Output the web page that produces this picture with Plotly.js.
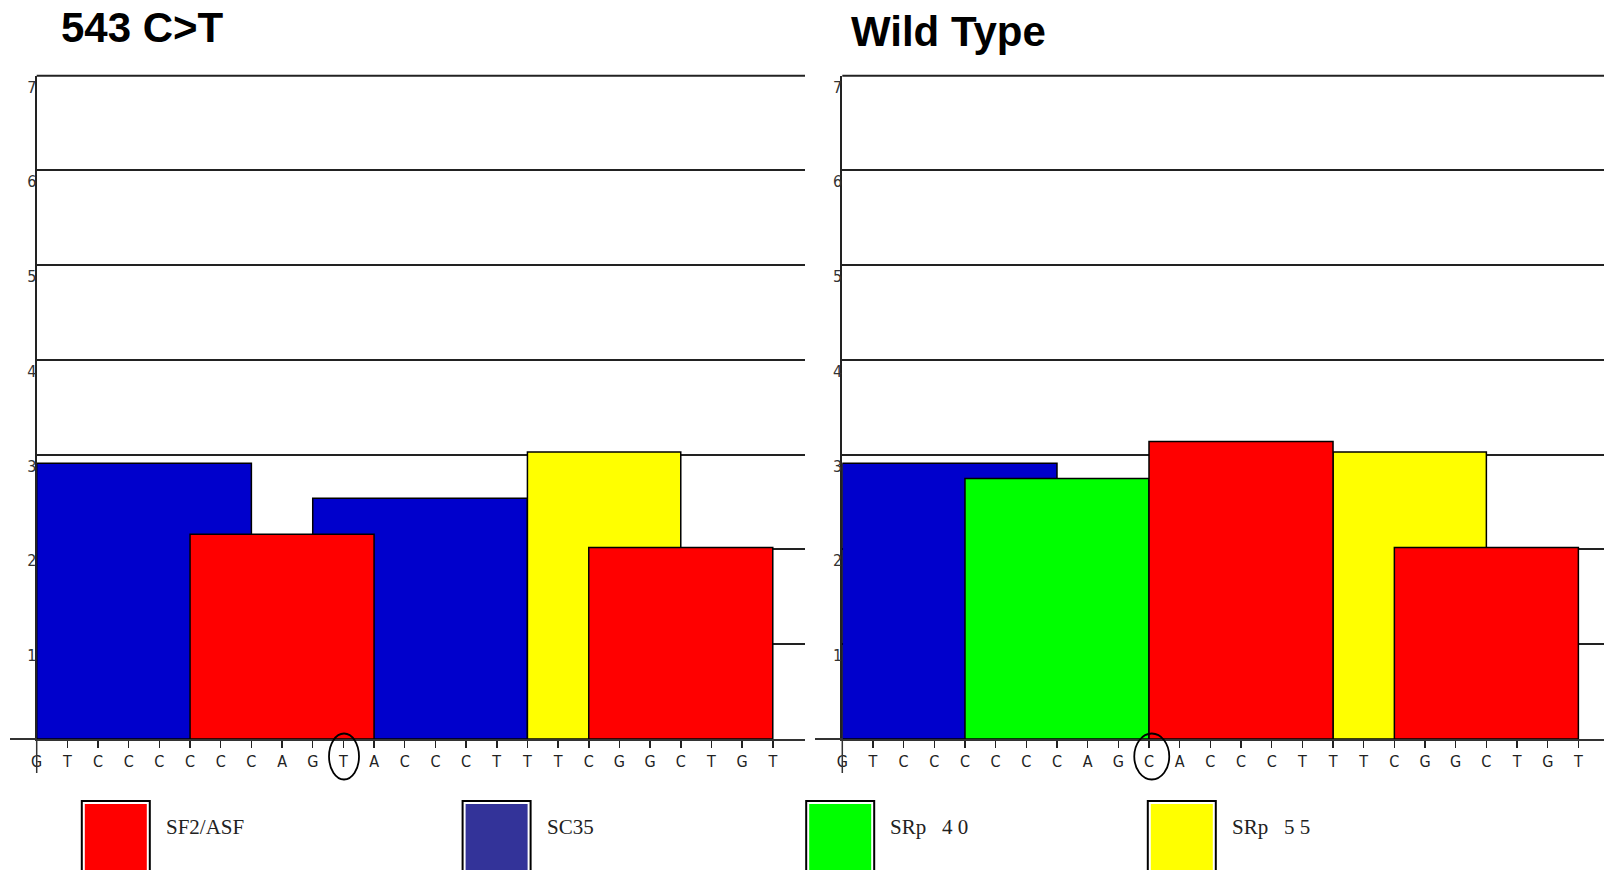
<!DOCTYPE html>
<html>
<head>
<meta charset="utf-8">
<script src="https://cdn.plot.ly/plotly-3.0.1.min.js"></script>
<style>
  html, body { margin: 0; padding: 0; background: #ffffff; }
  #chart { width: 1604px; height: 870px; }
</style>
</head>
<body>
<div id="chart"></div>
<script>
// ---------------- DATA ----------------
const panelTitles = ["543 C>T", "Wild Type"];
const seqMutant   = ["G","T","C","C","C","C","C","C","A","G","T","A","C","C","C","T","T","T","C","G","G","C","T","G","T"];
const seqWild     = ["G","T","C","C","C","C","C","C","A","G","C","A","C","C","C","T","T","T","C","G","G","C","T","G","T"];
const mutationIndex = 10;

const factorNames = ["SC35", "SRp55", "SRp40", "SF2/ASF"];           // drawing order
const motifLength = { "SC35": 8, "SRp55": 6, "SRp40": 7, "SF2/ASF": 7 };

// mutant (543 C>T) motif hits: start index in sequence, score
const mutSC35Start  = [0, 9];     const mutSC35Score  = [2.91, 2.54];
const mutSRp55Start = [16];       const mutSRp55Score = [3.03];
const mutSRp40Start = [];         const mutSRp40Score = [];
const mutSFStart    = [5, 18];    const mutSFScore    = [2.16, 2.02];

// wild type motif hits
const wtSC35Start  = [0];         const wtSC35Score  = [2.91];
const wtSRp55Start = [16];        const wtSRp55Score = [3.03];
const wtSRp40Start = [4];         const wtSRp40Score = [2.75];
const wtSFStart    = [10, 18];    const wtSFScore    = [3.14, 2.02];

const yTickVals = [1, 2, 3, 4, 5, 6, 7];
const legendLabels = ["SF2/ASF", "SC35", "SRp   4 0", "SRp   5 5"];

// ---------------- STYLE ----------------
const barColors = { "SC35": "#0000CC", "SRp55": "#FFFF00", "SRp40": "#00FF00", "SF2/ASF": "#FF0000" };
const legendColors = { "SF2/ASF": "#FF0000", "SC35": "#333399", "SRp   4 0": "#00FF00", "SRp   5 5": "#FFFF00" };
const smallFont = "Liberation Sans Narrow, DejaVu Sans Condensed, Liberation Sans, Arial, sans-serif";

const W = 1604, H = 870;
const px = x => x / W;
const py = y => 1 - y / H;
const UNIT = 30.67;          // pixels per nucleotide
const BASE_Y = 739, TOP_Y = 75.7;
const panels = [
  { axisX: 36.7, rightX: 805, lineStart: 10, xa: "x", ya: "y", seq: seqMutant,
    hits: { "SC35": [mutSC35Start, mutSC35Score], "SRp55": [mutSRp55Start, mutSRp55Score],
            "SRp40": [mutSRp40Start, mutSRp40Score], "SF2/ASF": [mutSFStart, mutSFScore] },
    title: { x: 59, y: 27.6 }, circle: { dx: 0.02, rx: 15 } },
  { axisX: 842.3, rightX: 1604, lineStart: 815, xa: "x2", ya: "y2", seq: seqWild,
    hits: { "SC35": [wtSC35Start, wtSC35Score], "SRp55": [wtSRp55Start, wtSRp55Score],
            "SRp40": [wtSRp40Start, wtSRp40Score], "SF2/ASF": [wtSFStart, wtSFScore] },
    title: { x: 849, y: 31 }, circle: { dx: 0.09, rx: 17.5 } }
];

const traces = [];
const shapes = [];
const annotations = [];
const layout = {
  width: W, height: H,
  margin: { l: 0, r: 0, t: 0, b: 0, pad: 0 },
  paper_bgcolor: "#ffffff",
  plot_bgcolor: "#ffffff",
  barmode: "overlay",
  showlegend: false,
  font: { family: "Liberation Sans, Arial, sans-serif", color: "#000" }
};

panels.forEach((p, idx) => {
  const sfx = idx === 0 ? "" : "2";
  // bars
  factorNames.forEach(f => {
    const [starts, scores] = p.hits[f];
    if (!starts.length) return;
    const span = motifLength[f] - 1;
    traces.push({
      type: "bar",
      xaxis: p.xa, yaxis: p.ya,
      x: starts.map(s => s + span / 2),
      width: starts.map(() => span),
      y: scores,
      base: 0,
      marker: { color: barColors[f], line: { color: "#000000", width: 1.5 } },
      hoverinfo: "skip",
      name: f
    });
  });

  layout["xaxis" + sfx] = {
    domain: [px(p.axisX), px(p.rightX)],
    range: [0, (p.rightX - p.axisX) / UNIT],
    anchor: "y" + sfx,
    tickmode: "array",
    tickvals: p.seq.map((_, i) => i),
    ticktext: p.seq,
    ticks: "outside", ticklen: 7, tickwidth: 1.5, tickcolor: "#222",
    tickfont: { family: smallFont, size: 16, color: "#222" },
    showline: true, linecolor: "#333", linewidth: 2,
    showgrid: false, zeroline: false, fixedrange: true
  };
  layout["yaxis" + sfx] = {
    domain: [py(BASE_Y), py(TOP_Y)],
    range: [0, 7],
    anchor: "x" + sfx,
    tickmode: "array",
    tickvals: yTickVals,
    ticktext: yTickVals.map(String),
    ticks: "",
    ticklabelposition: "outside bottom",
    ticklabelstandoff: -5,
    tickfont: { family: smallFont, size: 16, color: "#333" },
    showline: true, linecolor: "#222", linewidth: 2,
    showgrid: true, gridcolor: "#222222", gridwidth: 2,
    zeroline: false, fixedrange: true
  };

  // top border line at 7
  shapes.push({ type: "line", xref: "paper", yref: "paper",
    x0: px(p.axisX), x1: px(p.rightX), y0: py(TOP_Y), y1: py(TOP_Y),
    line: { color: "#222", width: 2 } });
  // baseline extension left of the y axis
  shapes.push({ type: "line", xref: "paper", yref: "paper",
    x0: px(p.lineStart), x1: px(p.axisX), y0: py(BASE_Y), y1: py(BASE_Y),
    line: { color: "#333", width: 2 } });
  // y axis continued below the baseline
  shapes.push({ type: "line", xref: "paper", yref: "paper",
    x0: px(p.axisX), x1: px(p.axisX), y0: py(BASE_Y), y1: py(773),
    line: { color: "#333", width: 1.5 } });
  // circle around the mutated position
  const halfW = p.circle.rx / UNIT;
  shapes.push({ type: "circle", xref: p.xa, yref: "paper",
    x0: mutationIndex + p.circle.dx - halfW, x1: mutationIndex + p.circle.dx + halfW,
    y0: py(779.5), y1: py(733.5),
    line: { color: "#000", width: 1.8 } });

  annotations.push({
    xref: "paper", yref: "paper", x: px(p.title.x), y: py(p.title.y),
    xanchor: "left", yanchor: "middle", showarrow: false,
    text: "<b>" + panelTitles[idx].replace(">", "&gt;") + "</b>",
    font: { family: "Liberation Sans, Arial, sans-serif", size: 42, color: "#000" }
  });
});

// legend boxes
const legendBoxX = [81.8, 462.6, 806.2, 1147.8];
const legendTextX = [163.5, 544.5, 887.5, 1229.5];
legendLabels.forEach((lab, i) => {
  const x0 = legendBoxX[i], x1 = x0 + 68;
  shapes.push({ type: "rect", xref: "paper", yref: "paper",
    x0: px(x0), x1: px(x1), y0: py(801), y1: py(880),
    line: { color: "#000", width: 2 }, fillcolor: "#ffffff" });
  shapes.push({ type: "rect", xref: "paper", yref: "paper",
    x0: px(x0 + 3), x1: px(x1 - 3), y0: py(804), y1: py(880),
    line: { width: 0 }, fillcolor: legendColors[lab] });
  annotations.push({
    xref: "paper", yref: "paper", x: px(legendTextX[i]), y: py(826.5),
    xanchor: "left", yanchor: "middle", showarrow: false,
    text: lab.replace(/ /g, "&nbsp;"),
    font: { family: "Liberation Serif, Times New Roman, serif", size: 21, color: "#222" }
  });
});

layout.shapes = shapes;
layout.annotations = annotations;

Plotly.newPlot("chart", traces, layout, { staticPlot: true, displayModeBar: false });
</script>
</body>
</html>
